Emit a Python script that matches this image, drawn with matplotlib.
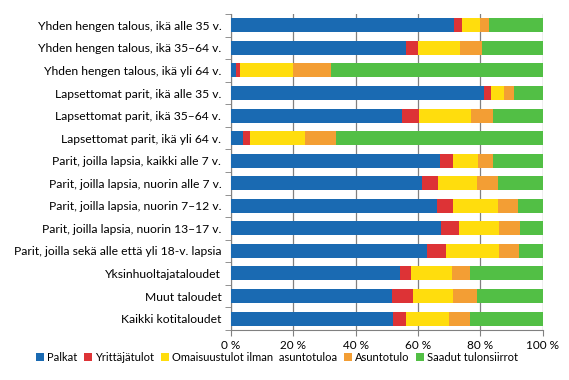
import numpy as np
import matplotlib.pyplot as plt
from matplotlib.ticker import FixedLocator

categories = [
    "Yhden hengen talous, ikä alle 35 v.",
    "Yhden hengen talous, ikä 35–64 v.",
    "Yhden hengen talous, ikä yli 64 v.",
    "Lapsettomat parit, ikä alle 35 v.",
    "Lapsettomat parit, ikä 35–64 v.",
    "Lapsettomat parit, ikä yli 64 v.",
    "Parit, joilla lapsia, kaikki alle 7 v.",
    "Parit, joilla lapsia, nuorin alle 7 v.",
    "Parit, joilla lapsia, nuorin 7–12 v.",
    "Parit, joilla lapsia, nuorin 13–17 v.",
    "Parit, joilla sekä alle että yli 18-v. lapsia",
    "Yksinhuoltajataloudet",
    "Muut taloudet",
    "Kaikki kotitaloudet",
]
series_names = ["Palkat", "Yrittäjätulot", "Omaisuustulot ilman  asuntotuloa",
                "Asuntotulo", "Saadut tulonsiirrot"]
palkat = [71.6, 56.2, 1.7, 81.2, 54.9, 3.8, 67.1, 61.3, 66.1, 67.4, 62.9, 54.3, 51.7, 52.0]
yrittaja = [2.5, 3.8, 1.3, 2.2, 5.5, 2.4, 4.2, 5.2, 5.2, 5.8, 6.1, 3.5, 6.7, 4.2]
omaisuus = [5.8, 13.5, 17.0, 4.2, 16.6, 17.6, 8.0, 12.5, 14.4, 12.8, 17.0, 13.1, 12.9, 13.8]
asunto = [2.9, 7.1, 12.2, 3.2, 7.1, 10.0, 4.8, 6.7, 6.4, 6.7, 6.4, 5.8, 7.7, 6.7]
siirrot = [17.2, 19.4, 67.8, 9.2, 15.9, 66.2, 15.9, 14.3, 7.9, 7.3, 7.6, 23.3, 21.0, 23.3]
colors = ["#1A6AB2", "#DD3336", "#FFDD0D", "#F39E34", "#52BF45"]

plt.rcParams['font.family'] = ['Lato', 'DejaVu Sans']
fig = plt.figure(figsize=(5.69, 3.8), dpi=100)
ax = fig.add_axes([0.406, 0.132, 0.548, 0.831])

data = np.array([palkat, yrittaja, omaisuus, asunto, siirrot])
data = data / data.sum(axis=0) * 100
y = np.arange(len(categories))
left = np.zeros(len(categories))
for vals, name, c in zip(data, series_names, colors):
    ax.barh(y, vals, left=left, height=0.62, color=c, label=name, zorder=3)
    left += vals

ax.set_xlim(0, 100)
ax.set_ylim(len(categories) - 0.5, -0.5)
ax.set_xticks(np.arange(0, 101, 20))
ax.set_xticklabels([f"{v} %" for v in range(0, 101, 20)], fontsize=8.5)
ax.set_yticks(y)
ax.set_yticklabels(categories, fontsize=8.7)
ax.yaxis.set_minor_locator(FixedLocator(np.arange(-0.5, len(categories), 1)))
ax.tick_params(axis='y', which='major', length=0, pad=7)
ax.tick_params(axis='y', which='minor', length=4, color='#808080')
ax.tick_params(axis='x', length=4, color='#808080', pad=3)
ax.grid(axis='x', color='#808080', linewidth=0.9, zorder=0)
for s in ['top', 'right']:
    ax.spines[s].set_visible(False)
for s in ['left', 'bottom']:
    ax.spines[s].set_color('#808080')

fig.legend(loc='center', bbox_to_anchor=(0.487, 0.06), ncol=5, frameon=False,
           fontsize=8, handlelength=0.7, handleheight=0.7, handletextpad=0.3,
           columnspacing=0.6)
plt.savefig("out.png", dpi=100)
